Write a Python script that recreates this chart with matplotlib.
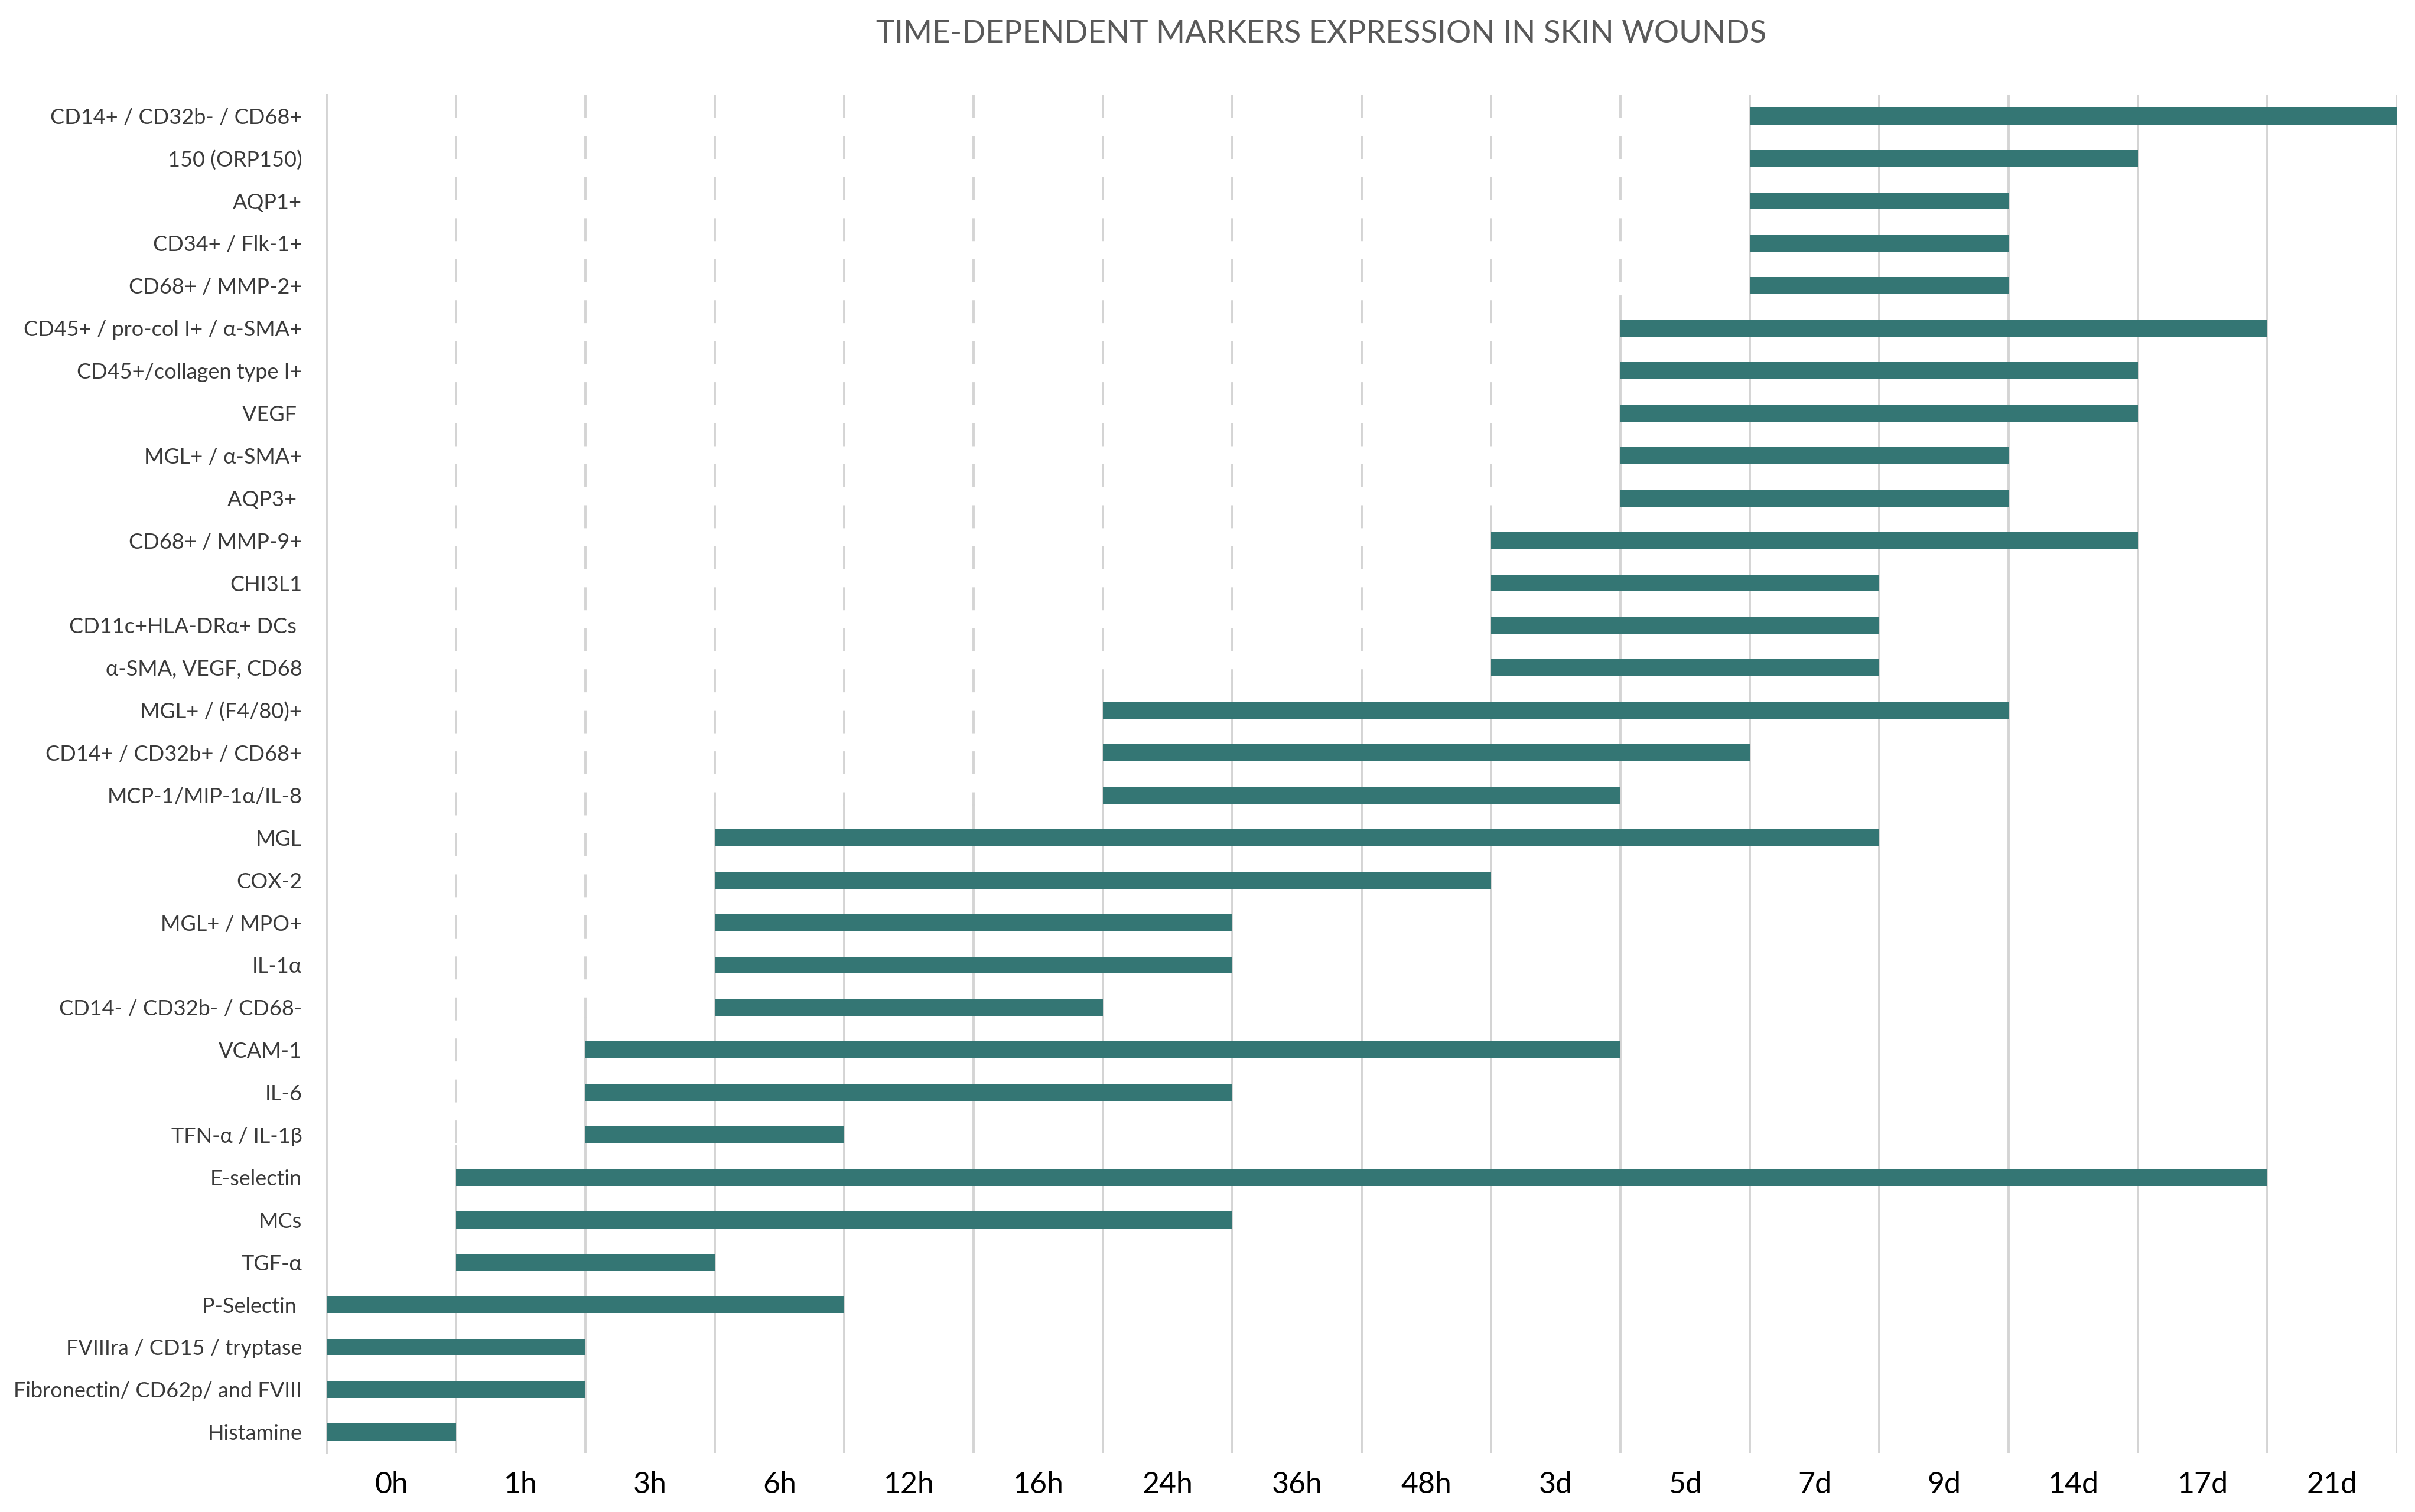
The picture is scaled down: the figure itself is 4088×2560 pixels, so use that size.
import numpy as np
import matplotlib.pyplot as plt

plt.rcParams['font.family'] = ['Lato', 'DejaVu Sans']
plt.rcParams['lines.scale_dashes'] = False

# --- DATA ---
time_labels = ['0h', '1h', '3h', '6h', '12h', '16h', '24h', '36h', '48h',
               '3d', '5d', '7d', '9d', '14d', '17d', '21d']

# markers from top to bottom
markers = [
    'CD14+ / CD32b- / CD68+', '150 (ORP150)', 'AQP1+', 'CD34+ / Flk-1+',
    'CD68+ / MMP-2+', 'CD45+ / pro-col I+ / α-SMA+', 'CD45+/collagen type I+',
    'VEGF ', 'MGL+ / α-SMA+', 'AQP3+ ', 'CD68+ / MMP-9+', 'CHI3L1',
    'CD11c+HLA-DRα+ DCs ', 'α-SMA, VEGF, CD68', 'MGL+ / (F4/80)+',
    'CD14+ / CD32b+ / CD68+', 'MCP-1/MIP-1α/IL-8', 'MGL', 'COX-2',
    'MGL+ / MPO+', 'IL-1α', 'CD14- / CD32b- / CD68-', 'VCAM-1', 'IL-6',
    'TFN-α / IL-1β', 'E-selectin', 'MCs', 'TGF-α', 'P-Selectin ',
    'FVIIIra / CD15 / tryptase', 'Fibronectin/ CD62p/ and FVIII', 'Histamine',
]
# start / end as column boundaries on the time axis (0 = left edge of "0h")
start = [11, 11, 11, 11, 11, 10, 10, 10, 10, 10, 9, 9, 9, 9, 6, 6,
         6, 3, 3, 3, 3, 3, 2, 2, 2, 1, 1, 1, 0, 0, 0, 0]
end = [16, 14, 13, 13, 13, 15, 14, 14, 13, 13, 14, 12, 12, 12, 13, 11,
       10, 12, 9, 7, 7, 6, 10, 7, 4, 15, 7, 3, 4, 2, 2, 1]

bar_color = '#347674'
grid_color = '#d4d4d4'

# --- PLOT ---
fig = plt.figure(figsize=(20.44, 12.8), dpi=200)
ax = fig.add_axes([553 / 4088, 1 - 2460 / 2560, (4057 - 553) / 4088, (2460 - 161) / 2560])

y = np.arange(len(markers))
starts = np.array(start)
ends = np.array(end)
ax.barh(y, ends - starts, left=starts, height=0.4, color=bar_color, zorder=3)

n_cols = len(time_labels)
ax.set_xlim(0, n_cols)
y_top, y_bot = -0.49, len(markers) - 0.51
ax.set_ylim(y_bot, y_top)

# gridlines: dashed above the first bar touching them, solid below
for k in range(1, n_cols + 1):
    hits = [i for i in range(len(markers)) if starts[i] <= k <= ends[i]]
    switch = (hits[0] - 0.75) if hits else y_bot
    switch = max(switch, y_top)
    if switch > y_top:
        ax.plot([k, k], [y_top, switch], color=grid_color, lw=1.4,
                dashes=(14, 11), zorder=1, solid_capstyle='butt')
    ax.plot([k, k], [switch, y_bot], color=grid_color, lw=1.4, zorder=1)

for s in ['top', 'right', 'bottom']:
    ax.spines[s].set_visible(False)
ax.spines['left'].set_color(grid_color)
ax.spines['left'].set_linewidth(1.4)

ax.set_yticks(y)
ax.set_yticklabels(markers, fontsize=13, color='#3a3a3a')
ax.set_xticks(np.arange(n_cols) + 0.5)
ax.set_xticklabels(time_labels, fontsize=18, color='black')
ax.tick_params(axis='both', length=0)
ax.tick_params(axis='y', pad=15)
ax.tick_params(axis='x', pad=11)

fig.text(2237 / 4088, 1 - 57 / 2560, 'TIME-DEPENDENT MARKERS EXPRESSION IN SKIN WOUNDS',
         ha='center', va='center', fontsize=19, color='#595959')

fig.savefig('out.png', dpi=200, facecolor='white')
